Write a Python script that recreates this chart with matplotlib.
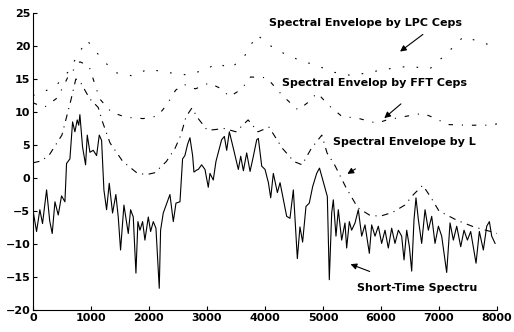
import matplotlib
matplotlib.use("Agg")
import matplotlib.pyplot as plt

# ---------------------------------------------------------------------
# Data (frequency in Hz, level in dB)
# ---------------------------------------------------------------------
spec_x = [0, 63, 120, 166, 236, 290, 333, 380, 437, 494, 552, 580, 638, 684, 724,
          764, 790, 810, 856, 908, 937, 983, 1040, 1098, 1144, 1184, 1224, 1270,
          1316, 1373, 1430, 1471, 1511, 1569, 1644, 1684, 1730, 1776, 1810, 1845,
          1891, 1931, 1989, 2029, 2075, 2121, 2178, 2201, 2247, 2300, 2362, 2420,
          2466, 2535, 2580, 2620, 2666, 2707, 2753, 2776, 2822, 2851, 2908, 2966,
          3023, 3052, 3109, 3155, 3253, 3300, 3340, 3386, 3455, 3541, 3582, 3628,
          3685, 3743, 3800, 3858, 3886, 3944, 4001, 4059, 4099, 4144, 4214, 4260,
          4318, 4374, 4431, 4489, 4558, 4603, 4649, 4707, 4764, 4822, 4891, 4940,
          5075, 5109, 5150, 5178, 5224, 5264, 5322, 5379, 5408, 5454, 5494, 5552,
          5609, 5667, 5724, 5799, 5839, 5897, 5954, 6011, 6069, 6126, 6184, 6241,
          6299, 6356, 6397, 6443, 6489, 6529, 6569, 6603, 6644, 6701, 6759, 6816,
          6874, 6931, 6989, 7046, 7132, 7190, 7247, 7305, 7374, 7431, 7489, 7546,
          7638, 7695, 7764, 7822, 7868, 7908, 7966]
spec_y = [-4.8, -8.1, -4.8, -6.9, -1.8, -6.5, -8.4, -3.6, -5.6, -2.7, -3.6, 2.2, 2.9,
          8.5, 7.0, 8.8, 8.0, 9.6, 4.7, 2.0, 6.5, 3.9, 4.2, 3.4, 6.5, 5.7, -1.8, -4.8,
          -0.8, -5.3, -2.5, -5.9, -10.9, -4.1, -8.4, -4.8, -5.9, -14.4, -6.6, -7.9,
          -6.6, -9.4, -5.9, -8.1, -6.6, -7.6, -16.7, -7.9, -5.3, -4.0, -2.5, -6.6,
          -3.8, -3.6, 2.9, 3.4, 5.1, 6.1, 3.4, 0.9, 1.2, 1.3, 2.0, 1.3, -1.4, 0.7,
          -0.3, 2.5, 5.8, 6.3, 4.2, 7.0, 4.5, 1.3, 3.3, 1.1, 3.8, 1.0, 3.3, 5.8, 6.0,
          1.8, 1.3, -0.7, -3.0, 0.7, -2.2, -0.7, -3.3, -5.8, -6.1, -1.8, -12.2, -7.4,
          -9.7, -4.3, -3.8, -1.3, 0.7, 1.5, -2.8, -15.4, -5.3, -3.3, -8.8, -4.8,
          -9.4, -6.8, -10.6, -6.6, -7.9, -6.8, -4.8, -8.8, -7.1, -11.4, -7.1, -8.8,
          -7.3, -9.9, -7.9, -10.6, -7.6, -9.9, -7.9, -8.8, -12.4, -7.9, -10.4, -14.1,
          -6.3, -3.0, -6.3, -9.9, -4.8, -7.9, -5.8, -9.9, -7.3, -8.8, -14.3, -6.8,
          -9.4, -7.3, -10.4, -7.9, -9.4, -8.1, -12.9, -8.1, -10.9, -7.3, -6.6, -8.8,
          -9.9]

# envelope by LPC cepstrum (top)
lpcc_x = [0, 150, 400, 600, 800, 930, 1100, 1400, 1700, 2000, 2300, 2670, 3000,
          3170, 3410, 3650, 3860, 4100, 4400, 4650, 4900, 5200, 5500, 5800, 6100,
          6450, 6850, 7150, 7420, 7800, 8000]
lpcc_y = [12.5, 12.9, 14.0, 16.0, 19.0, 20.9, 19.0, 16.0, 15.5, 16.5, 16.0, 15.6,
          16.5, 17.4, 16.6, 18.5, 21.7, 20.0, 18.5, 17.7, 17.0, 16.0, 15.5, 16.0,
          16.5, 16.9, 16.6, 19.0, 21.4, 20.4, 19.5]

# envelope by FFT cepstrum (middle)
fftc_x = [0, 195, 400, 510, 603, 810, 965, 1150, 1350, 1600, 1900, 2150, 2300,
          2460, 2600, 2800, 3040, 3250, 3390, 3600, 3750, 4030, 4300, 4570, 4750,
          4900, 5100, 5330, 5580, 5930, 6100, 6400, 6720, 6950, 7140, 7500, 7880,
          8000]
fftc_y = [11.4, 10.7, 12.0, 13.6, 15.3, 17.6, 17.0, 12.0, 10.0, 9.2, 9.0, 9.4,
          11.0, 13.3, 14.2, 13.5, 14.4, 13.5, 12.3, 13.5, 15.3, 15.2, 12.5, 10.3,
          11.5, 12.9, 11.0, 9.3, 9.1, 8.3, 8.8, 9.3, 9.8, 9.0, 8.1, 8.0, 8.0, 8.2]

# envelope by LPC (bottom)
lpc_x = [0, 150, 290, 500, 655, 740, 820, 980, 1125, 1200, 1330, 1550, 1790, 1950,
         2100, 2300, 2450, 2550, 2640, 2740, 2850, 3000, 3100, 3300, 3500, 3710,
         3880, 4070, 4300, 4500, 4640, 4800, 4980, 5070, 5200, 5400, 5600, 5800,
         5980, 6200, 6410, 6560, 6720, 6850, 7000, 7310, 7600, 7930, 8000]
lpc_y = [2.3, 2.6, 3.6, 6.5, 11.8, 15.0, 14.5, 12.0, 10.7, 8.5, 5.3, 2.5, 0.8, 0.5,
         0.8, 2.5, 4.5, 6.5, 9.3, 10.6, 9.0, 7.3, 7.3, 7.5, 7.0, 8.8, 7.0, 7.7, 4.5,
         2.5, 2.0, 4.5, 6.5, 3.8, 2.0, -1.5, -4.5, -5.6, -5.8, -5.2, -4.1, -2.5,
         -1.1, -2.8, -5.0, -6.4, -7.4, -8.2, -8.4]

XTICKS = [0, 1000, 2000, 3000, 4000, 5000, 6000, 7000, 8000]
YTICKS = [-20, -15, -10, -5, 0, 5, 10, 15, 20, 25]

# ---------------------------------------------------------------------
# Figure
# ---------------------------------------------------------------------
fig = plt.figure(figsize=(5.14, 3.32), dpi=100)
ax = fig.add_axes([0.064, 0.066, 0.903, 0.895])

ax.plot(spec_x, spec_y, color="black", lw=0.8)
ax.plot(lpcc_x, lpcc_y, color="black", lw=0.8, dashes=(1.5, 11))
ax.plot(fftc_x, fftc_y, color="black", lw=0.8, dashes=(4, 8, 1, 8))
ax.plot(lpc_x, lpc_y, color="black", lw=0.8, dashes=(6, 5, 1, 5))

ax.set_xlim(0, 8000)
ax.set_ylim(-20, 25)
ax.set_xticks(XTICKS)
ax.set_yticks(YTICKS)
for side in ("top", "right"):
    ax.spines[side].set_visible(False)
ax.tick_params(direction="in", length=3, width=0.8, labelsize=8, pad=2)
for lab in ax.get_xticklabels() + ax.get_yticklabels():
    lab.set_fontweight("bold")

# Annotations --------------------------------------------------------
txt = dict(fontsize=8, fontweight="bold", va="center", ha="left")
ax.text(4070, 23.5, "Spectral Envelope by LPC Ceps", **txt)
ax.text(4290, 14.4, "Spectral Envelop by FFT Ceps", **txt)
ax.text(5170, 5.45, "Spectral Envelope by L", **txt)
ax.text(5590, -16.7, "Short-Time Spectru", **txt)

arr = dict(arrowstyle="-|>", color="black", lw=0.8, mutation_scale=9)
ax.annotate("", xy=(6290, 18.9), xytext=(6760, 22.0), arrowprops=arr)
ax.annotate("", xy=(6020, 8.8), xytext=(6380, 11.5), arrowprops=arr)
ax.annotate("", xy=(5380, 0.4), xytext=(5600, 1.6), arrowprops=arr)
ax.annotate("", xy=(5430, -12.9), xytext=(5850, -14.3), arrowprops=arr)

fig.savefig("out.png", dpi=100)
